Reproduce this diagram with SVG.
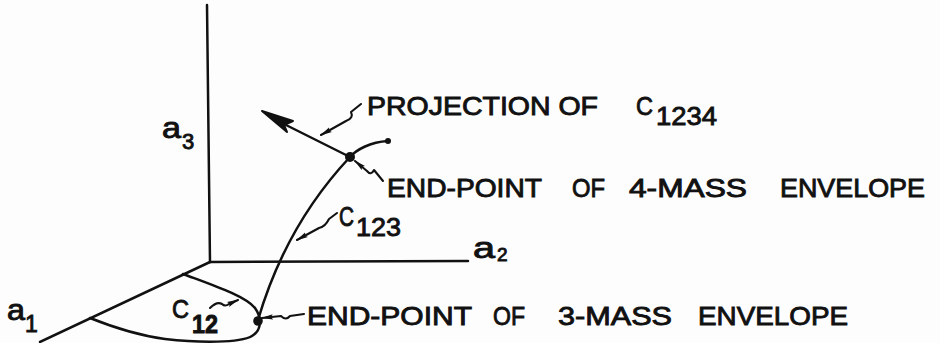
<svg xmlns="http://www.w3.org/2000/svg" width="940" height="343" viewBox="0 0 940 343">
<defs>
<style>
.ln{fill:none;stroke:#111;stroke-width:2.5;stroke-linecap:round;stroke-linejoin:round}
.ld{fill:none;stroke:#111;stroke-width:2.1;stroke-linecap:round;stroke-linejoin:round}
.t{font-family:"Liberation Sans",Arial,sans-serif;font-size:26.5px;fill:#111;stroke:#111;stroke-width:0.9}
.s{font-family:"Liberation Sans",Arial,sans-serif;fill:#111;stroke:#111;stroke-width:0.9}
</style>
<marker id="la" viewBox="0 0 12 6" refX="11" refY="3" markerWidth="12" markerHeight="6" markerUnits="userSpaceOnUse" orient="auto">
<path d="M0,0.3 L12,3 L0,5.7 L2,3 z" fill="#111"/>
</marker>
</defs>
<rect width="940" height="343" fill="#fdfdfd"/>

<g id="axes">
<path class="ln" d="M207,5 L210,262"/>
<path class="ln" d="M210,262 L468,261"/>
<path class="ln" d="M210,262 L40,342"/>
</g>

<g id="curve-c12">
<path class="ln" d="M183,274 C215,286 245,296 255,308 C262,318 262,330 252,336 C240,343 200,343 165,339 C135,335 110,326 90,318"/>
</g>

<g id="curve-c123">
<path class="ln" d="M258,320 C275,262 305,205 350,157"/>
</g>

<g id="curve-c1234">
<path class="ln" d="M350,157 C356,150 370,142 388,141"/>
<circle cx="388" cy="141" r="3" fill="#111"/>
</g>

<g id="projection-arrow">
<path class="ln" d="M350,157 L284,124"/>
<path d="M262,111 L293,121 L284,125 L287,132 z" fill="#111" stroke="#111" stroke-width="2" stroke-linejoin="round"/>
</g>

<g id="endpoint-4">
<circle cx="350" cy="157" r="5" fill="#111"/>
</g>

<g id="endpoint-3">
<circle cx="258" cy="321" r="4.8" fill="#111"/>
</g>

<g id="connectors">
<path class="ld" marker-end="url(#la)" d="M361,104 L351,112 Q354,118 346,121 L321,135"/>
<path class="ld" marker-end="url(#la)" d="M383,181 L374,170 Q371,176 367,171 L355,161"/>
<path class="ld" marker-end="url(#la)" d="M337,213 L329,219 Q325,227 319,228 L297,240"/>
<path class="ld" marker-end="url(#la)" d="M210,308 Q217,301 222,304 Q225,307 229,304 L238,300"/>
<path class="ld" marker-end="url(#la)" d="M304,314 L290,316 Q286,321 281,316 L262,318"/>
</g>

<g id="label-a3">
<text class="s" x="162" y="138" font-size="29" textLength="19" lengthAdjust="spacingAndGlyphs">a</text>
<text class="s" x="182" y="149" font-size="22">3</text>
</g>
<g id="label-a1">
<text class="s" x="7" y="320" font-size="29" textLength="18" lengthAdjust="spacingAndGlyphs">a</text>
<text class="s" x="25" y="332" font-size="23">1</text>
</g>
<g id="label-a2">
<text class="s" x="473" y="258" font-size="29" textLength="22" lengthAdjust="spacingAndGlyphs">a</text>
<text class="s" x="497" y="261" font-size="19">2</text>
</g>
<g id="label-c12">
<text class="s" x="172" y="318" font-size="26" textLength="17" lengthAdjust="spacingAndGlyphs">C</text>
<text class="s" x="192" y="333" font-size="25" font-weight="bold" textLength="26" lengthAdjust="spacingAndGlyphs">12</text>
</g>
<g id="label-c123">
<text class="s" x="339" y="226" font-size="27" textLength="15" lengthAdjust="spacingAndGlyphs">C</text>
<text class="s" x="356" y="236" font-size="26" textLength="45" lengthAdjust="spacingAndGlyphs">123</text>
</g>
<g id="label-projection">
<text class="t" x="367" y="115" textLength="231" lengthAdjust="spacingAndGlyphs">PROJECTION OF</text>
<text class="t" x="636" y="115" textLength="17" lengthAdjust="spacingAndGlyphs">C</text>
<text class="t" x="656" y="125" textLength="61" lengthAdjust="spacingAndGlyphs">1234</text>
</g>
<g id="label-endpoint-4">
<text class="t" x="387" y="197" textLength="155" lengthAdjust="spacingAndGlyphs">END-POINT</text>
<text class="t" x="572" y="197" textLength="33" lengthAdjust="spacingAndGlyphs">OF</text>
<text class="t" x="629" y="197" textLength="118" lengthAdjust="spacingAndGlyphs">4-MASS</text>
<text class="t" x="780" y="197" textLength="145" lengthAdjust="spacingAndGlyphs">ENVELOPE</text>
</g>
<g id="label-endpoint-3">
<text class="t" x="307" y="325" textLength="165" lengthAdjust="spacingAndGlyphs">END-POINT</text>
<text class="t" x="493" y="325" textLength="32" lengthAdjust="spacingAndGlyphs">OF</text>
<text class="t" x="558" y="325" textLength="114" lengthAdjust="spacingAndGlyphs">3-MASS</text>
<text class="t" x="698" y="325" textLength="150" lengthAdjust="spacingAndGlyphs">ENVELOPE</text>
</g>
</svg>
